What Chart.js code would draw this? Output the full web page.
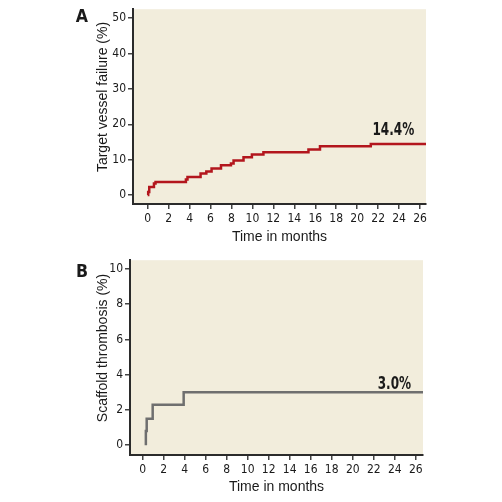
<!DOCTYPE html>
<html>
<head>
<meta charset="utf-8">
<script src="https://cdn.jsdelivr.net/npm/chart.js@4.4.1/dist/chart.umd.min.js"></script>
<style>
    html, body { margin: 0; padding: 0; background: #ffffff; }
    canvas { display: block; }
</style>
</head>
<body>
<canvas id="tvfChart" width="502" height="251"></canvas>
<canvas id="stChart" width="502" height="251"></canvas>
<script>
// Panel A: target vessel failure (cumulative %, step at each event)
const tvfMonths = [0, 0.05, 0.15, 0.6, 0.75, 3.65, 3.8, 5.05, 5.6, 6.1, 7.0, 7.95, 8.2, 9.15, 9.95, 11.05, 15.35, 16.45, 21.3, 26.6];
const tvfRate = [0, 0.9, 2.3, 3.3, 3.7, 4.4, 5.1, 6.1, 6.7, 7.5, 8.4, 8.9, 9.8, 10.7, 11.5, 12.1, 12.9, 13.8, 14.4, 14.4];
const tvfYTicks = [0, 10, 20, 30, 40, 50];

// Panel B: scaffold thrombosis
const stMonths = [0.3, 0.3, 0.38, 0.95, 3.9, 26.7];
const stRate = [0, 0.8, 1.5, 2.3, 3.0, 3.0];
const stYTicks = [0, 2, 4, 6, 8, 10];

const monthTicks = [0, 2, 4, 6, 8, 10, 12, 14, 16, 18, 20, 22, 24, 26];

const narrowFont = "'Liberation Sans Narrow', 'DejaVu Sans Condensed', 'Arial Narrow', sans-serif";
const plainFont = "'Liberation Sans', Arial, sans-serif";
const boldFont = "'DejaVu Sans', sans-serif";
const plotBg = '#f2eddc';

// draws text squeezed horizontally, to get the condensed look of the original
function condensedText(ctx, text, x, y, squeeze) {
    ctx.save();
    ctx.translate(x, y);
    ctx.scale(squeeze, 1);
    ctx.fillText(text, 0, 0);
    ctx.restore();
}

const panelPlugin = {
    id: 'panelDecor',
    beforeDraw(chart, args, opts) {
        const { ctx, chartArea: a } = chart;
        ctx.save();
        ctx.fillStyle = plotBg;
        ctx.fillRect(a.left, a.top, a.right - a.left, a.bottom - a.top);
        ctx.restore();
    },
    afterDraw(chart, args, opts) {
        const { ctx, chartArea: a } = chart;
        const xs = chart.scales.x;
        const ys = chart.scales.y;
        ctx.save();
        ctx.fillStyle = '#1a1a1a';
        ctx.textAlign = 'center';
        ctx.textBaseline = 'middle';

        // panel letter
        ctx.font = 'bold 18px ' + boldFont;
        condensedText(ctx, opts.letter, 82, opts.letterY, 0.88);

        // axis titles
        ctx.font = '14px ' + plainFont;
        ctx.fillText('Time in months', (a.left + a.right) / 2, opts.xTitleY);
        ctx.save();
        ctx.translate(103, opts.yTitleY);
        ctx.rotate(-Math.PI / 2);
        ctx.fillText(opts.yTitle, 0, 0);
        ctx.restore();

        // final value label above end of curve
        const pts = chart.data.datasets[0].data;
        const last = pts[pts.length - 1];
        ctx.font = 'bold 18px ' + boldFont;
        ctx.textAlign = 'right';
        ctx.textBaseline = 'alphabetic';
        condensedText(ctx, opts.endLabel, xs.getPixelForValue(last.x) - 12, ys.getPixelForValue(last.y) - opts.endLabelGap, 0.67);
        ctx.restore();
    },
};

function makeScale(min, max, tickValues, fitSize, isY) {
    return {
        type: 'linear',
        min: min,
        max: max,
        afterBuildTicks: (scale) => {
            scale.ticks = tickValues.map(v => ({ value: v }));
        },
        afterFit: (scale) => {
            if (isY) scale.width = fitSize;
            else scale.height = fitSize;
        },
        border: { display: true, color: '#2b2b2b', width: 2 },
        grid: {
            drawOnChartArea: false,
            drawTicks: true,
            tickLength: 5,
            tickColor: '#444444',
            lineWidth: 1.5,
        },
        ticks: {
            autoSkip: false,
            maxRotation: 0,
            padding: isY ? 2 : 3,
            color: '#1a1a1a',
            font: { family: narrowFont, size: 12 },
        },
    };
}

function makeChart(canvasId, months, rate, color, cfg) {
    return new Chart(document.getElementById(canvasId), {
        type: 'line',
        data: {
            datasets: [{
                data: months.map((m, i) => ({ x: m, y: rate[i] })),
                borderColor: color,
                borderWidth: 2.5,
                stepped: true,
                pointRadius: 0,
                fill: false,
            }],
        },
        options: {
            responsive: false,
            animation: false,
            devicePixelRatio: 1,
            layout: { padding: { left: 0, right: cfg.padRight, top: cfg.padTop, bottom: 0 } },
            scales: {
                x: makeScale(cfg.xMin, cfg.xMax, monthTicks, 47, false),
                y: makeScale(cfg.yMin, cfg.yMax, cfg.yTicks, cfg.yWidth, true),
            },
            plugins: {
                legend: { display: false },
                tooltip: { enabled: false },
                panelDecor: cfg.decor,
            },
        },
        plugins: [panelPlugin],
    });
}

makeChart('tvfChart', tvfMonths, tvfRate, '#b3161d', {
    padRight: 76, padTop: 7, yWidth: 133,
    xMin: -1.40, xMax: 26.57,
    yMin: -2.51, yMax: 52.5, yTicks: tvfYTicks,
    decor: { letter: 'A', letterY: 17, yTitle: 'Target vessel failure (%)', yTitleY: 97, xTitleY: 237, endLabel: '14.4%', endLabelGap: 9 },
});

makeChart('stChart', stMonths, stRate, '#6f6f6f', {
    padRight: 79, padTop: 6, yWidth: 130,
    xMin: -1.21, xMax: 26.69,
    yMin: -0.56, yMax: 10.5, yTicks: stYTicks,
    decor: { letter: 'B', letterY: 21, yTitle: 'Scaffold thrombosis (%)', yTitleY: 97, xTitleY: 236, endLabel: '3.0%', endLabelGap: 3 },
});
</script>
</body>
</html>
